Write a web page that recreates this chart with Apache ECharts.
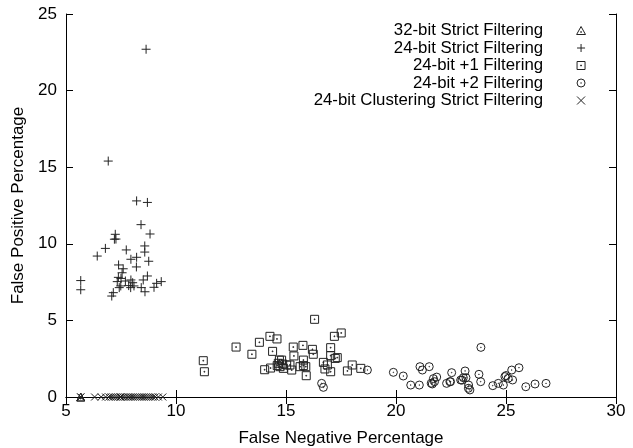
<!DOCTYPE html>
<html>
<head>
<meta charset="utf-8">
<script src="https://cdn.jsdelivr.net/npm/echarts@6/dist/echarts.min.js"></script>
<style>html,body{margin:0;padding:0;background:#fff}#c{width:633px;height:448px}</style>
</head>
<body>
<div id="c"></div>
<script>
// ---- data ----
var seriesNames = ['32-bit Strict Filtering', '24-bit Strict Filtering', '24-bit +1 Filtering', '24-bit +2 Filtering', '24-bit Clustering Strict Filtering'];
var xTicks = [5, 10, 15, 20, 25, 30];
var yTicks = [0, 5, 10, 15, 20, 25];

var strict32 = [[5.67, 0], [5.67, 0]];

var strict24 = [
  [8.64, 22.7], [6.92, 15.4], [8.21, 12.8], [8.70, 12.7], [8.41, 11.25], [8.82, 10.64],
  [7.24, 10.62], [7.27, 10.31], [7.20, 10.3], [8.58, 9.86], [6.79, 9.70], [7.74, 9.6],
  [8.58, 9.46], [6.42, 9.2], [8.21, 9.12], [7.95, 8.99], [8.76, 8.86], [8.20, 8.49],
  [7.39, 8.62], [7.60, 8.37], [7.55, 8.11], [7.38, 7.81], [8.70, 7.9], [5.67, 7.6],
  [7.50, 7.74], [7.70, 7.57], [7.95, 7.64], [8.03, 7.46], [8.51, 7.64], [9.33, 7.53],
  [9.12, 7.42], [5.67, 7.0], [7.49, 7.25], [7.85, 7.27], [8.09, 7.25], [7.94, 7.14],
  [8.42, 7.14], [9.00, 7.16], [7.42, 7.14], [8.59, 6.87], [7.15, 6.81], [7.08, 6.59],
  [7.33, 7.53]
];

var plus1 = [
  [11.24, 2.37], [11.29, 1.65], [12.73, 3.26], [13.45, 2.79], [13.79, 3.57], [14.27, 3.96],
  [14.59, 3.79], [14.39, 2.98], [14.03, 1.78], [14.30, 1.89], [14.70, 2.41], [14.73, 1.98],
  [15.03, 2.09], [14.60, 2.05], [14.65, 2.2], [14.85, 2.15], [16.30, 5.07], [17.20, 3.96],
  [17.51, 4.18], [15.33, 3.26], [15.77, 3.37], [16.20, 3.11], [16.24, 2.79], [17.03, 3.22],
  [15.36, 2.68], [15.79, 2.41], [17.03, 2.70], [17.33, 2.57], [17.24, 2.52], [14.80, 2.41],
  [15.18, 2.09], [15.79, 2.05], [15.90, 1.98], [16.70, 2.26], [16.88, 2.09], [16.77, 1.83],
  [17.03, 1.65], [15.26, 1.76], [15.92, 1.39], [18.01, 2.09], [18.40, 1.87], [17.79, 1.70],
  [14.88, 1.87], [15.64, 1.98]
];

var plus2 = [
  [16.62, 0.89], [16.70, 0.63], [18.70, 1.76], [19.88, 1.61], [20.33, 1.37], [21.09, 1.98],
  [21.51, 1.98], [21.20, 1.76], [20.67, 0.78], [21.06, 0.78], [21.60, 0.9], [21.70, 1.2],
  [21.75, 1.0], [21.85, 1.3], [21.65, 0.85], [22.30, 0.89], [22.53, 1.59], [22.48, 1.0],
  [22.94, 1.11], [23.14, 1.70], [23.18, 1.26], [23.29, 0.57], [23.86, 3.24], [23.06, 1.26],
  [23.30, 0.78], [23.36, 0.46], [23.77, 1.48], [23.85, 1.0], [24.40, 0.74], [24.65, 0.89],
  [24.88, 0.78], [24.95, 1.33], [25.10, 1.22], [25.00, 1.4], [25.26, 1.76], [25.59, 1.91],
  [25.30, 1.11], [25.90, 0.67], [26.32, 0.85], [26.82, 0.89], [23.00, 1.1], [22.45, 1.0]
];

var clust24 = [
  [5.67, 0], [5.67, 0], [6.3, 0], [6.6, 0], [6.8, 0], [6.95, 0], [7.05, 0], [7.15, 0],
  [7.25, 0], [7.35, 0], [7.45, 0], [7.5, 0], [7.6, 0], [7.7, 0], [7.8, 0], [7.85, 0],
  [7.95, 0], [8.05, 0], [8.15, 0], [8.25, 0], [8.35, 0], [8.45, 0], [8.55, 0], [8.65, 0],
  [8.75, 0], [8.85, 0], [8.95, 0], [9.05, 0], [9.2, 0], [9.4, 0]
];

// ---- chart ----
var FONT = '"Liberation Sans", Arial, Helvetica, sans-serif';
var INK = '#000';
var MARK = '#222';
var sym = {
  tri: 'path://M5,0L10,9L0,9ZM4.6,5.8H5.4V6.6H4.6Z',
  plus: 'path://M5,0V10M0,5H10',
  sq: 'path://M0,0H10V10H0ZM4.5,4.5H5.5V5.5H4.5Z',
  circ: 'path://M0,5A5,5,0,1,1,10,5A5,5,0,1,1,0,5ZM4.6,5A0.4,0.4,0,1,1,5.4,5A0.4,0.4,0,1,1,4.6,5Z',
  x: 'path://M0,0L10,10M10,0L0,10'
};
function mk(name, data, symbol, size) {
  return {
    name: name, type: 'scatter', data: data, symbol: symbol, symbolSize: size,
    clip: false, animation: false,
    itemStyle: { color: 'transparent', borderColor: MARK, borderWidth: 1, opacity: 1 },
    emphasis: { disabled: true }
  };
}
var axisCommon = {
  type: 'value',
  axisLine: { show: true, lineStyle: { color: INK, width: 1 } },
  axisTick: { show: true, inside: true, length: 7, lineStyle: { color: INK, width: 1 } },
  splitLine: { show: false }
};
function xa(pos, labels) {
  return Object.assign({}, axisCommon, {
    position: pos, min: xTicks[0], max: xTicks[xTicks.length - 1], interval: 5,
    axisLabel: { show: labels, color: INK, fontSize: 17, fontFamily: FONT, margin: 6 },
    name: labels ? 'False Negative Percentage' : '', nameLocation: 'middle', nameGap: 33,
    nameTextStyle: { color: INK, fontSize: 17, fontFamily: FONT }
  });
}
function ya(pos, labels) {
  return Object.assign({}, axisCommon, {
    position: pos, min: yTicks[0], max: yTicks[yTicks.length - 1], interval: 5,
    axisLabel: { show: labels, color: INK, fontSize: 17, fontFamily: FONT, margin: 9 },
    name: labels ? 'False Positive Percentage' : '', nameLocation: 'middle', nameGap: 38,
    nameTextStyle: { color: INK, fontSize: 17, fontFamily: FONT }
  });
}
var chart = echarts.init(document.getElementById('c'), null, { renderer: 'canvas' });
chart.setOption({
  animation: false,
  backgroundColor: '#fff',
  grid: { left: 66, right: 17, top: 14, bottom: 51, containLabel: false, outerBoundsMode: 'none' },
  xAxis: [xa('bottom', true), xa('top', false)],
  yAxis: [ya('left', true), ya('right', false)],
  legend: {
    orient: 'vertical', align: 'right', right: 42, top: 17,
    itemWidth: 60, itemHeight: 8, itemGap: 0.5,
    itemStyle: { borderWidth: 1, borderColor: MARK, color: 'transparent' },
    textStyle: { color: INK, fontSize: 16.8, fontFamily: FONT, lineHeight: 16, padding: [0, 3, 0, 0] },
    selectedMode: false,
    data: seriesNames
  },
  series: [
    mk(seriesNames[0], strict32, sym.tri, 8),
    mk(seriesNames[1], strict24, sym.plus, 9),
    mk(seriesNames[2], plus1, sym.sq, 8),
    mk(seriesNames[3], plus2, sym.circ, 8),
    mk(seriesNames[4], clust24, sym.x, 7)
  ]
});
</script>
</body>
</html>
